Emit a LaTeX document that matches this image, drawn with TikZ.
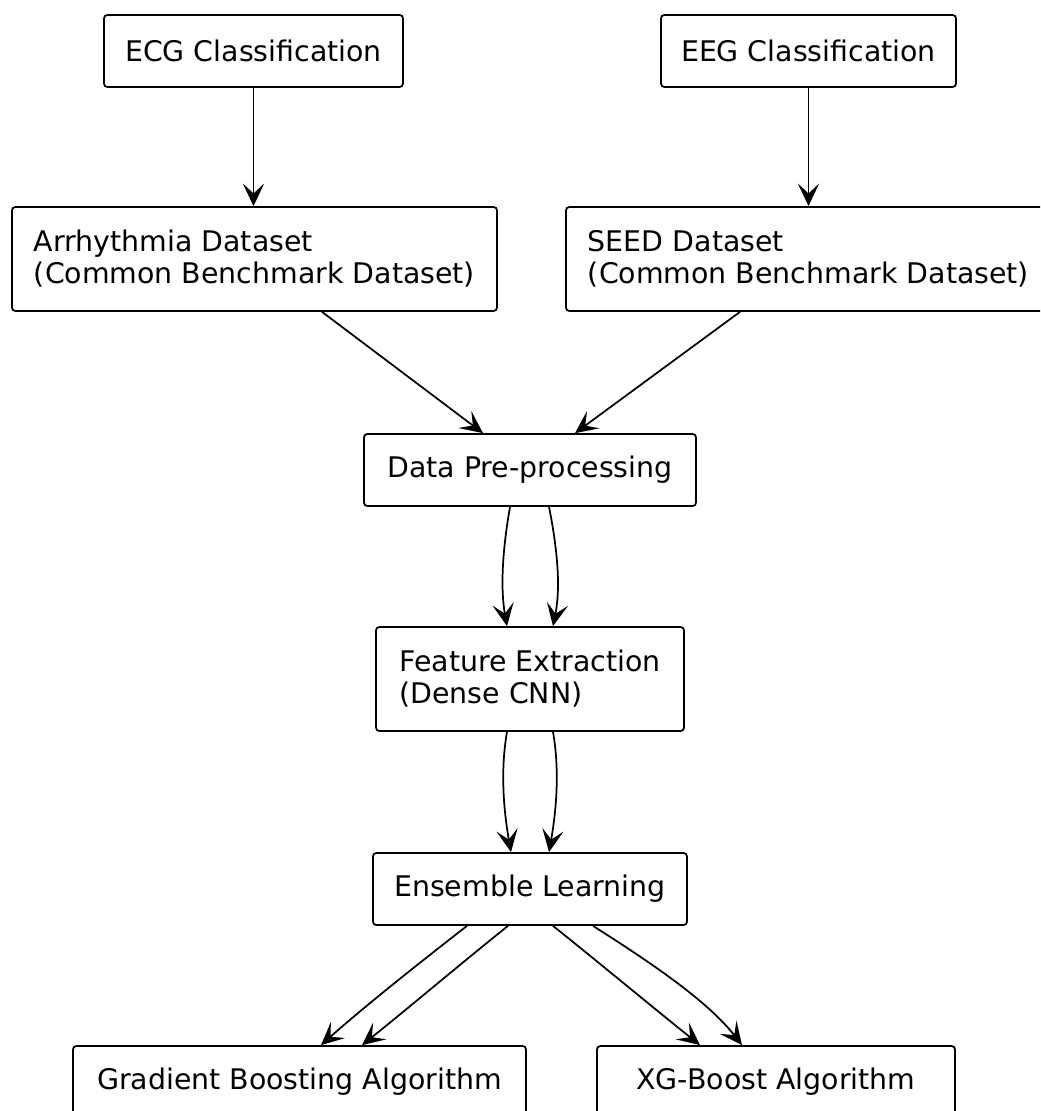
\documentclass[tikz,border=0pt]{standalone}
\usepackage{fontspec}
\setmainfont{DejaVu Sans}
\usetikzlibrary{arrows.meta,calc}

\tikzset{
  box/.style 2 args={draw, line width=1.3pt, rounded corners=2.5pt, fill=white,
    minimum width=#1*0.75pt, minimum height=#2*0.75pt, inner sep=0pt,
    font=\fontsize{21.3pt}{24pt}\selectfont, align=left},
  edge/.style={draw, line width=1.3pt,
    -{Stealth[length=17pt, width=16pt, inset=7.5pt]}}
}

\begin{document}
\begin{tikzpicture}[x=0.75pt, y=-0.75pt]
  \useasboundingbox (0,0) rectangle (1040,1111);
  \clip (0,0) rectangle (1040,1111);

  % blocks (coordinates in pixels, y pointing down)
  \node[box={299}{72}]  (ecg)  at (253.5,51)  {ECG Classification};
  \node[box={295}{72}]  (eeg)  at (808.5,51)  {EEG Classification};
  \node[box={485}{104}] (arr)  at (254.5,259) {Arrhythmia Dataset\\(Common Benchmark Dataset)};
  \node[box={485}{104}] (seed) at (808.5,259) {SEED Dataset\\(Common Benchmark Dataset)};
  \node[box={332}{72}]  (pre)  at (530,470)   {Data Pre-processing};
  \node[box={308}{104}] (feat) at (530,679)   {Feature Extraction\\(Dense CNN)};
  \node[box={314}{72}]  (ens)  at (530,889)   {Ensemble Learning};
  \node[box={453}{72}]  (gb)   at (299.5,1082) {Gradient Boosting Algorithm};
  \node[box={358}{72}]  (xg)   at (776,1082)  {XG-Boost Algorithm};

  % classification tasks to their datasets
  \draw[edge] (ecg.south) -- (ecg.south |- arr.north);
  \draw[edge] (eeg.south) -- (eeg.south |- seed.north);

  % datasets into pre-processing
  \draw[edge] ($(arr.south)+(67.5,0)$) -- ($(pre.north)+(-47,0)$);
  \draw[edge] ($(seed.south)+(-68.5,0)$) -- ($(pre.north)+(45,0)$);

  % pre-processing to feature extraction (two paths)
  \draw[edge] ($(pre.south)+(-20,0)$) .. controls +(-7,40) and +(-7,-40) .. ($(feat.north)+(-23,0)$);
  \draw[edge] ($(pre.south)+(19,0)$) .. controls +(8,40) and +(8,-40) .. ($(feat.north)+(23,0)$);

  % feature extraction to ensemble learning (two paths)
  \draw[edge] ($(feat.south)+(-23,0)$) .. controls +(-7,40) and +(-7,-40) .. ($(ens.north)+(-19,0)$);
  \draw[edge] ($(feat.south)+(23,0)$) .. controls +(7,40) and +(7,-40) .. ($(ens.north)+(19,0)$);

  % ensemble learning to the two classifiers
  \draw[edge] ($(ens.south)+(-63,0)$) .. controls +(-45,35) and +(45,-40) .. ($(gb.north)+(21.5,0)$);
  \draw[edge] ($(ens.south)+(-22,0)$) .. controls +(-50,40) and +(50,-40) .. ($(gb.north)+(62.5,0)$);
  \draw[edge] ($(ens.south)+(23,0)$) .. controls +(50,40) and +(-50,-40) .. ($(xg.north)+(-76,0)$);
  \draw[edge] ($(ens.south)+(63,0)$) .. controls +(55,35) and +(-35,-45) .. ($(xg.north)+(-34,0)$);
\end{tikzpicture}
\end{document}
